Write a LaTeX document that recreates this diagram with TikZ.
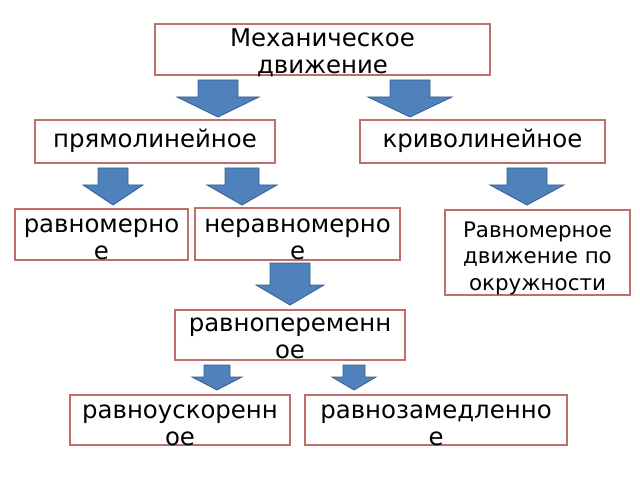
\documentclass[tikz,border=0pt]{standalone}
\usepackage{fontspec}
\setmainfont{DejaVu Sans}
\usetikzlibrary{fit}

\definecolor{boxred}{RGB}{192,110,108}
\definecolor{arrblue}{RGB}{79,129,189}
\definecolor{arrline}{RGB}{56,93,138}

\tikzset{
  box/.style={draw=boxred, line width=1pt, fill=white, inner sep=0pt},
  lbl/.style={align=center, inner sep=0pt, font=\fontsize{12.2}{13.5}\selectfont},
  lblsmall/.style={align=center, inner sep=0pt, font=\fontsize{10.7}{13.1}\selectfont},
  blockarr/.style={fill=arrblue, draw=arrline, line width=0.4pt}
}

% block arrow: centre x, top y, tip y, shaft half width, head half width, head length
\newcommand{\blockarr}[6]{%
  \draw[blockarr] (#1-#4,#2) -- (#1+#4,#2) -- (#1+#4,#3-#6) -- (#1+#5,#3-#6)
    -- (#1,#3) -- (#1-#5,#3-#6) -- (#1-#4,#3-#6) -- cycle;}

\begin{document}
\begin{tikzpicture}[x=0.5pt,y=-0.5pt]
\useasboundingbox[fill=white] (0,0) rectangle (640,480);

% boxes
\node[box, fit={(155,24) (490,75)}] (mech) {};
\node[box, fit={(35,120) (275,163)}] (pryam) {};
\node[box, fit={(360,120) (605,163)}] (kriv) {};
\node[box, fit={(15,209) (188,260)}] (ravn) {};
\node[box, fit={(195,208) (400,260)}] (nerav) {};
\node[box, fit={(445,210) (630,295)}] (okr) {};
\node[box, fit={(175,310) (405,360)}] (ravnoper) {};
\node[box, fit={(70,395) (290,445)}] (uskor) {};
\node[box, fit={(305,395) (567,445)}] (zamed) {};

% texts (base = baseline of the last line)
\node[lbl, anchor=base] (mecht) at (322.5,74) {Механическое\\движение};
\node[lbl, anchor=base] (pryamt) at (155,148) {прямолинейное};
\node[lbl, anchor=base] (krivt) at (482.5,148) {криволинейное};
\node[lbl, anchor=base] (ravnt) at (101.5,259) {равномерно\\е};
\node[lbl, anchor=base] (neravt) at (297.5,259) {неравномерно\\е};
\node[lblsmall, anchor=base] (okrt) at (537.5,290) {Равномерное\\движение по\\окружности};
\node[lbl, anchor=base] (ravnopert) at (290,358) {равнопеременн\\ое};
\node[lbl, anchor=base] (uskort) at (180,445) {равноускоренн\\ое};
\node[lbl, anchor=base] (zamedt) at (436,445) {равнозамедленно\\е};

% arrows
\blockarr{218}{80}{117}{20}{41}{20}
\blockarr{410}{80}{117}{20}{42}{20}
\blockarr{113}{168}{205}{15}{30}{20}
\blockarr{242}{168}{205}{17}{35}{20}
\blockarr{527}{168}{205}{20}{37}{20}
\blockarr{290}{263}{305}{20}{34}{20}
\blockarr{217}{365}{390}{13}{25}{13}
\blockarr{354}{365}{390}{11}{22}{13}
\end{tikzpicture}
\end{document}
